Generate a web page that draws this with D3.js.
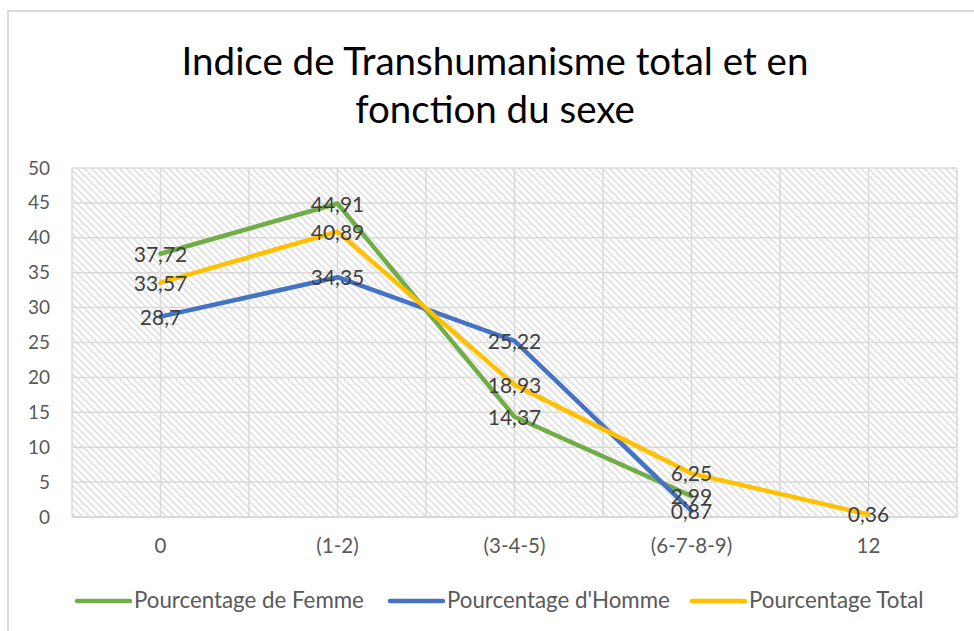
<!DOCTYPE html>
<html>
<head>
<meta charset="utf-8">
<script src="https://cdn.jsdelivr.net/npm/d3@7"></script>
<style>
  body { margin: 0; background: #fff; }
  svg { display: block; }
  text { font-family: "Lato", "Open Sans", sans-serif; }
</style>
</head>
<body>
<div id="chart"></div>
<script>
// chart data
var categories = ["0", "(1-2)", "(3-4-5)", "(6-7-8-9)", "12"];
var femme  = [37.72, 44.91, 14.37, 2.99, null];
var homme  = [28.7, 34.35, 25.22, 0.87, null];
var total  = [33.57, 40.89, 18.93, 6.25, 0.36];
var yTicks = [0, 5, 10, 15, 20, 25, 30, 35, 40, 45, 50];
var seriesNames = ["Pourcentage de Femme", "Pourcentage d'Homme", "Pourcentage Total"];

var W = 974, H = 631;
var plot = {left: 72, right: 957, top: 168, bottom: 517};

var colors = ["#70AD47", "#4472C4", "#FFC000"];
var series = [femme, homme, total];

var svg = d3.select("#chart").append("svg")
    .attr("width", W)
    .attr("height", H);

// hatch pattern for plot background
var defs = svg.append("defs");
var pat = defs.append("pattern")
    .attr("id", "hatch")
    .attr("patternUnits", "userSpaceOnUse")
    .attr("width", 7)
    .attr("height", 7);
pat.append("path")
    .attr("d", "M-1,6 L1,8 M0,0 L7,7 M6,-1 L8,1")
    .attr("stroke", "#dcdcdc")
    .attr("stroke-width", 1.4);

// outer chart border (cropped on right / bottom)
svg.append("rect")
    .attr("x", 8).attr("y", 11)
    .attr("width", 980).attr("height", 640)
    .attr("fill", "#fff")
    .attr("stroke", "#d9d9d9")
    .attr("stroke-width", 2);

// title
var title = svg.append("text")
    .attr("text-anchor", "middle")
    .attr("font-size", 38.5)
    .attr("fill", "#000");
title.append("tspan").attr("x", 495).attr("y", 75).text("Indice de Transhumanisme total et en");
title.append("tspan").attr("x", 495).attr("y", 123).text("fonction du sexe");

// scales
var x = d3.scaleBand()
    .domain(categories)
    .range([plot.left, plot.right]);

var y = d3.scaleLinear()
    .domain([0, 50])
    .range([plot.bottom, plot.top]);

var g = svg.append("g");

g.append("rect")
    .attr("x", plot.left).attr("y", plot.top)
    .attr("width", plot.right - plot.left)
    .attr("height", plot.bottom - plot.top)
    .attr("fill", "url(#hatch)");

// horizontal gridlines
g.selectAll(".hgrid")
    .data(yTicks)
    .enter().append("line")
    .attr("class", "hgrid")
    .attr("x1", plot.left).attr("x2", plot.right)
    .attr("y1", function(d) { return y(d); })
    .attr("y2", function(d) { return y(d); })
    .attr("stroke", "#d9d9d9")
    .attr("stroke-width", function(d) { return d === 0 ? 2 : 1.5; });

// vertical gridlines: band edges and centers
var vx = [];
categories.forEach(function(c) {
    vx.push(x(c));
    vx.push(x(c) + x.bandwidth() / 2);
});
vx.push(plot.right);
g.selectAll(".vgrid")
    .data(vx)
    .enter().append("line")
    .attr("class", "vgrid")
    .attr("x1", function(d) { return d; }).attr("x2", function(d) { return d; })
    .attr("y1", plot.top).attr("y2", plot.bottom)
    .attr("stroke", "#d9d9d9")
    .attr("stroke-width", 1.5);

// y axis labels
var yAxis = d3.axisLeft(y).tickValues(yTicks).tickSize(0).tickPadding(0);
var yAxisG = svg.append("g")
    .attr("transform", "translate(50,0)")
    .call(yAxis);
yAxisG.select(".domain").remove();
yAxisG.selectAll("text")
    .attr("font-family", "Lato, sans-serif")
    .attr("font-size", 19)
    .attr("fill", "#595959");

// x axis labels
var xAxis = d3.axisBottom(x).tickSize(0).tickPadding(0);
var xAxisG = svg.append("g")
    .attr("transform", "translate(0,538)")
    .call(xAxis);
xAxisG.select(".domain").remove();
xAxisG.selectAll("text")
    .attr("font-family", "Lato, sans-serif")
    .attr("font-size", 20.5)
    .attr("fill", "#595959");

// lines
var line = d3.line()
    .defined(function(d) { return d != null; })
    .x(function(d, i) { return x(categories[i]) + x.bandwidth() / 2; })
    .y(function(d) { return y(d); });

series.forEach(function(s, k) {
    g.append("path")
        .datum(s)
        .attr("d", line)
        .attr("fill", "none")
        .attr("stroke", colors[k])
        .attr("stroke-width", 4.5)
        .attr("stroke-linejoin", "round")
        .attr("stroke-linecap", "round");
});

// data labels
series.forEach(function(s, k) {
    g.selectAll(".lbl" + k)
        .data(s.map(function(v, i) { return {v: v, i: i}; }).filter(function(d) { return d.v != null; }))
        .enter().append("text")
        .attr("x", function(d) { return x(categories[d.i]) + x.bandwidth() / 2; })
        .attr("y", function(d) { return y(d.v) + 8; })
        .attr("text-anchor", "middle")
        .attr("font-size", 21)
        .attr("fill", "#404040")
        .text(function(d) { return String(d.v).replace(".", ","); });
});

// legend
var legendX = [77, 390, 692];
var legend = svg.append("g");
seriesNames.forEach(function(name, k) {
    legend.append("line")
        .attr("x1", legendX[k]).attr("x2", legendX[k] + 53)
        .attr("y1", 601).attr("y2", 601)
        .attr("stroke", colors[k])
        .attr("stroke-width", 4.5)
        .attr("stroke-linecap", "round");
    legend.append("text")
        .attr("x", legendX[k] + 57)
        .attr("y", 608)
        .attr("font-size", 22.3)
        .attr("fill", "#595959")
        .text(name);
});
</script>
</body>
</html>
